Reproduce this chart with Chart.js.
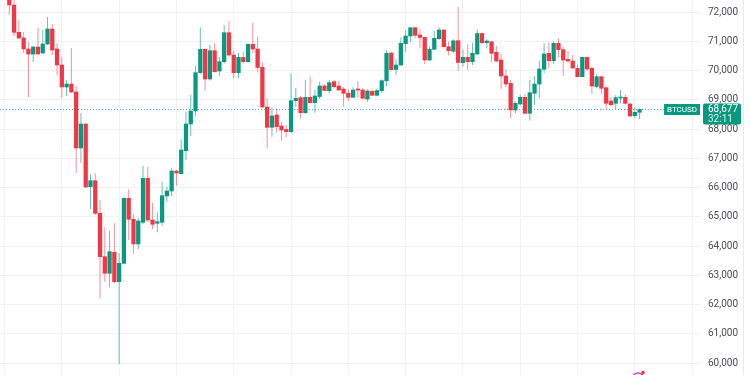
<!DOCTYPE html>
<html>
<head>
<meta charset="utf-8">
<title>BTCUSD</title>
<script src="https://cdn.jsdelivr.net/npm/chart.js@4.4.1/dist/chart.umd.min.js"></script>
<style>
    html, body { margin: 0; padding: 0; background: #ffffff; }
    #wrap { width: 750px; height: 375px; }
</style>
</head>
<body>
<div id="wrap"><canvas id="btcChart" width="750" height="375"></canvas></div>
<script>
// 30 minute candles, oldest first
let opens = [72592, 72250, 71316, 71121, 70745, 70574, 70813, 70608, 70916, 71429,
    70745, 70197, 69445, 69547, 69274, 67358, 68179, 66034, 66239, 65124,
    63639, 63071, 63790, 62784, 63413, 65637, 64919, 64074, 64816, 66321,
    64895, 64782, 64816, 65716, 65887, 66571, 66479, 67265, 68179, 68624,
    69934, 70734, 69718, 70687, 69992, 70310, 71302, 70539, 69934, 70454,
    70310, 70905, 70745, 70119, 68761, 68066, 68487, 68111, 67991, 67916,
    68976, 69079, 68566, 69092, 68908, 69120, 69479, 69318, 69626, 69479,
    69376, 69229, 69092, 69366, 69342, 69034, 69298, 69161, 69318, 69660,
    70608, 70043, 70197, 70926, 71189, 71473, 71224, 71145, 70368, 70734,
    71097, 71395, 70823, 70666, 71029, 70276, 70461, 70310, 70574, 71275,
    70960, 70994, 70632, 70368, 69821, 69571, 68658, 68863, 69092, 68545,
    69229, 69547, 70050, 70598, 70344, 70940, 70721, 70392, 70334, 70084,
    69797, 70461, 70084, 69462, 69797, 69421, 68966, 68887, 69068, 69092,
    68863, 68463, 68579];
let highs = [72695, 72421, 71737, 71326, 70984, 70847, 71463, 71395, 71839, 71600,
    70950, 70471, 69684, 70779, 69479, 68555, 68213, 66458, 66492, 65579,
    64645, 64518, 64782, 63756, 65682, 65945, 65100, 64963, 66752, 66718,
    65487, 65158, 66205, 66034, 66684, 66605, 67656, 68600, 69171, 70163,
    71487, 70769, 70882, 70940, 70481, 71566, 71703, 70687, 70618, 70652,
    70940, 71644, 71165, 70290, 69058, 68743, 68716, 68258, 68145, 69913,
    69411, 69137, 69684, 69804, 69359, 69633, 69547, 69684, 69684, 69650,
    69434, 69366, 69434, 69650, 69400, 69359, 69359, 69393, 69708, 70710,
    70652, 70392, 71145, 71378, 71487, 71487, 71419, 71165, 70823, 71360,
    71487, 71419, 70994, 71077, 72192, 70734, 70905, 70960, 71412, 71309,
    71077, 71018, 70847, 70574, 70050, 69684, 68942, 69171, 69205, 69684,
    69821, 70344, 70940, 70974, 71001, 71104, 70823, 70676, 70539, 70214,
    70481, 70481, 70129, 69879, 69821, 69455, 69103, 69171, 69342, 69188,
    68908, 68750, 68716];
let lows = [71908, 71189, 71087, 70608, 69103, 70300, 70539, 70574, 70882, 70539,
    69855, 69068, 69137, 69239, 66503, 66845, 66000, 65271, 65066, 62226,
    62784, 62592, 62729, 59969, 63390, 64211, 63732, 63892, 64748, 64837,
    64577, 64474, 64690, 65521, 65716, 66068, 66469, 66947, 67768, 68453,
    69889, 69318, 69660, 69941, 69831, 70255, 70481, 69742, 69742, 70255,
    70283, 70598, 69941, 68726, 67348, 67744, 67888, 67614, 67734, 67881,
    68771, 68374, 68521, 68880, 68566, 69034, 69308, 69229, 69393, 69318,
    68771, 68966, 69079, 69086, 69034, 68942, 69137, 69120, 69239, 69479,
    70009, 69855, 70173, 70642, 70967, 71121, 70769, 70232, 70334, 70710,
    71063, 70803, 70522, 70608, 70002, 70139, 70026, 70197, 70539, 70916,
    70769, 70290, 70310, 69366, 69434, 68374, 68545, 68812, 68521, 68292,
    68829, 69058, 69924, 70095, 70232, 70454, 69821, 70266, 70071, 69777,
    69777, 69992, 69215, 69400, 69205, 68682, 68795, 68682, 68887, 68846,
    68429, 68374, 68350];
let closes = [72250, 71316, 71121, 70745, 70574, 70813, 70574, 70916, 71429, 70710,
    70197, 69445, 69547, 69274, 67358, 68179, 66024, 66239, 65124, 63639,
    63071, 63810, 62784, 63413, 65637, 64919, 64074, 64861, 66321, 64895,
    64748, 64837, 65726, 65887, 66571, 66503, 67289, 68179, 68624, 69934,
    70734, 69718, 70687, 69968, 70310, 71302, 70539, 69934, 70461, 70310,
    70905, 70745, 70112, 68761, 68066, 68453, 68087, 67974, 67916, 68976,
    69058, 68566, 69092, 68908, 69137, 69479, 69325, 69592, 69455, 69342,
    69229, 69092, 69342, 69342, 69058, 69308, 69161, 69325, 69660, 70598,
    70037, 70197, 70940, 71189, 71473, 71213, 71138, 70368, 70734, 71111,
    71395, 70823, 70687, 71025, 70283, 70461, 70310, 70598, 71275, 70960,
    71018, 70598, 70334, 69821, 69547, 68658, 68887, 69092, 68545, 69250,
    69547, 70061, 70574, 70344, 70940, 70721, 70368, 70334, 70095, 69797,
    70461, 70061, 69479, 69797, 69400, 68887, 68839, 69079, 69092, 68887,
    68453, 68579, 68677];
let priceTicks = [60000, 61000, 62000, 63000, 64000, 65000, 66000,
    67000, 68000, 69000, 70000, 71000, 72000];
let symbol = "BTCUSD";
let lastPrice = 68677;
let countdown = "32:11";

let upColour = "#089981";
let downColour = "#f23645";
let gridColour = "#f0f1f4";

Chart.defaults.font.family = "Roboto, 'Liberation Sans', sans-serif";

let isUp = closes.map((c, i) => c >= opens[i]);
let bodies = opens.map((o, i) => ({ x: i + 1, y: [o, closes[i]] }));
let wicks = lows.map((l, i) => ({ x: i + 1, y: [l, highs[i]] }));

let priceTag = {
    id: "priceTag",
    afterDraw(chart) {
        let ctx = chart.ctx;
        let area = chart.chartArea;
        let py = Math.round(chart.scales.y.getPixelForValue(lastPrice)) + 0.5;
        ctx.save();

        // dotted last price line
        ctx.strokeStyle = "rgba(8,153,129,0.7)";
        ctx.lineWidth = 1;
        ctx.setLineDash([1, 2]);
        ctx.beginPath();
        ctx.moveTo(area.left, py);
        ctx.lineTo(area.right, py);
        ctx.stroke();
        ctx.setLineDash([]);

        // symbol tag
        ctx.font = "8px Roboto, 'Liberation Sans', sans-serif";
        let tw = ctx.measureText(symbol).width + 6;
        ctx.fillStyle = upColour;
        ctx.fillRect(area.right - tw, py - 5.5, tw, 11);
        ctx.fillStyle = "#ffffff";
        ctx.textAlign = "center";
        ctx.textBaseline = "middle";
        ctx.fillText(symbol, area.right - tw / 2, py);

        // price and countdown tag
        ctx.fillStyle = upColour;
        ctx.beginPath();
        ctx.roundRect(area.right + 3, py - 6, 38, 21, 2);
        ctx.fill();
        ctx.fillStyle = "#ffffff";
        ctx.font = "10px Roboto, 'Liberation Sans', sans-serif";
        ctx.textAlign = "left";
        ctx.fillText(lastPrice.toLocaleString("en-US"), area.right + 8, py);
        ctx.fillStyle = "rgba(255,255,255,0.85)";
        ctx.fillText(countdown, area.right + 8, py + 9.5);

        // price scale edge
        ctx.strokeStyle = "#e9eaed";
        ctx.beginPath();
        ctx.moveTo(743.5, 0);
        ctx.lineTo(743.5, chart.height);
        ctx.stroke();

        // events marker at the bottom
        ctx.strokeStyle = "#b84fd6";
        ctx.lineWidth = 1.5;
        ctx.beginPath();
        ctx.arc(638, 379, 6, Math.PI * 1.1, Math.PI * 1.9);
        ctx.stroke();
        ctx.fillStyle = downColour;
        ctx.beginPath();
        ctx.arc(643, 372.5, 1.8, 0, Math.PI * 2);
        ctx.fill();
        ctx.restore();
    }
};

new Chart(document.getElementById("btcChart"), {
    type: "bar",
    data: {
        datasets: [{
            data: bodies,
            backgroundColor: isUp.map(u => u ? upColour : downColour),
            barThickness: 3.6,
            minBarLength: 1,
            grouped: false,
            order: 1
        }, {
            data: wicks,
            backgroundColor: isUp.map(u => u ? "rgba(8,153,129,0.6)" : "rgba(242,54,69,0.55)"),
            barThickness: 1,
            inflateAmount: 0,
            grouped: false,
            order: 2
        }]
    },
    options: {
        responsive: false,
        animation: false,
        devicePixelRatio: 1,
        layout: { padding: 0 },
        plugins: {
            legend: { display: false },
            tooltip: { enabled: false }
        },
        scales: {
            x: {
                type: "linear",
                offset: false,
                min: -0.95,
                max: 145.65,
                grid: { color: gridColour, drawTicks: false, offset: false },
                border: { display: false },
                ticks: { display: false },
                afterBuildTicks: s => {
                    let t = [];
                    for (let v = 0; v <= 144; v += 12) t.push({ value: v });
                    s.ticks = t;
                },
                afterFit: s => {
                    s.height = 0;
                    s.paddingLeft = 0;
                    s.paddingRight = 0;
                }
            },
            y: {
                position: "right",
                min: 59592,
                max: 72421,
                grid: { color: gridColour, drawTicks: false },
                border: { display: false },
                ticks: {
                    padding: 8,
                    color: "#4a4d57",
                    font: { size: 10 },
                    callback: v => v.toLocaleString("en-US")
                },
                afterBuildTicks: s => {
                    s.ticks = priceTicks.map(v => ({ value: v }));
                },
                afterFit: s => {
                    s.width = 50;
                    s.paddingTop = 0;
                    s.paddingBottom = 0;
                }
            }
        }
    },
    plugins: [priceTag]
});
</script>
</body>
</html>
